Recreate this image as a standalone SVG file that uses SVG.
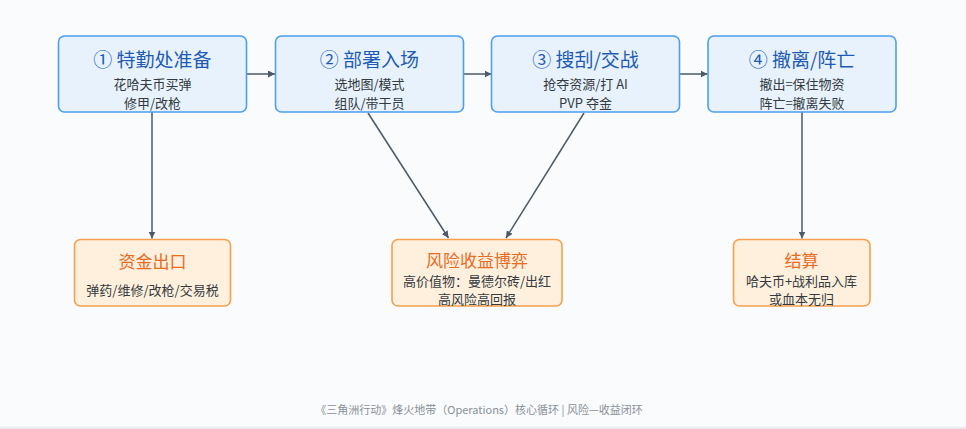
<svg xmlns="http://www.w3.org/2000/svg" width="966" height="429" viewBox="0 0 966 429">
<defs>
<marker id="ah" viewBox="0 0 10 10" refX="10" refY="5" markerWidth="7" markerHeight="7" markerUnits="userSpaceOnUse" orient="auto"><path d="M0,0 L10,5 L0,10 z" fill="#4b5a66"/></marker>
<style>
.top{fill:#e7f2fd;stroke:#4c9ef0;stroke-width:1.6}
.bot{fill:#fef0dd;stroke:#f5a04c;stroke-width:1.6}
text{font-family:"Noto Sans CJK SC","Noto Sans",sans-serif;text-anchor:middle}
.tt{font-size:19px;fill:#1f5bb5}
.bt{font-size:17px;fill:#ea6a1f}
.st{font-size:13px;fill:#333a40}
.ft{font-size:11px;fill:#8a9096}
.c{stroke:#4b5a66;stroke-width:1.5;fill:none;marker-end:url(#ah)}
</style>
</defs>
<rect width="966" height="429" fill="#f9fbfd"/>
<line x1="0" y1="428" x2="966" y2="428" stroke="#e2e5e8" stroke-width="1.5"/>
<g id="connectors">
<line class="c" x1="247" y1="74" x2="275" y2="74"/>
<line class="c" x1="464" y1="74" x2="491.5" y2="74"/>
<line class="c" x1="679.5" y1="74" x2="707.5" y2="74"/>
<line class="c" x1="152" y1="112" x2="152" y2="238.5"/>
<line class="c" x1="368" y1="113" x2="448.5" y2="238"/>
<line class="c" x1="584" y1="113" x2="506" y2="238"/>
<line class="c" x1="802" y1="112" x2="802" y2="238.5"/>
</g>
<g id="n1">
<rect class="top" x="58.5" y="36" width="188" height="76" rx="6"/>
<text class="tt" x="152.5" y="67">① 特勤处准备</text>
<text class="st" x="152.5" y="89">花哈夫币买弹</text>
<text class="st" x="152.5" y="108">修甲/改枪</text>
</g>
<g id="n2">
<rect class="top" x="275.5" y="36" width="188" height="76" rx="6"/>
<text class="tt" x="369.5" y="67">② 部署入场</text>
<text class="st" x="369.5" y="89">选地图/模式</text>
<text class="st" x="369.5" y="108">组队/带干员</text>
</g>
<g id="n3">
<rect class="top" x="491.5" y="36" width="188" height="76" rx="6"/>
<text class="tt" x="585.5" y="67">③ 搜刮/交战</text>
<text class="st" x="585.5" y="89">抢夺资源/打 AI</text>
<text class="st" x="585.5" y="108">PVP 夺金</text>
</g>
<g id="n4">
<rect class="top" x="708" y="36" width="188" height="76" rx="6"/>
<text class="tt" x="802" y="67">④ 撤离/阵亡</text>
<text class="st" x="802" y="89">撤出=保住物资</text>
<text class="st" x="802" y="108">阵亡=撤离失败</text>
</g>
<g id="b1">
<rect class="bot" x="74.5" y="239.5" width="156" height="66.5" rx="6"/>
<text class="bt" x="152.5" y="268">资金出口</text>
<text class="st" x="152.5" y="295">弹药/维修/改枪/交易税</text>
</g>
<g id="b2">
<rect class="bot" x="392" y="239.5" width="170" height="66.5" rx="6"/>
<text class="bt" x="477" y="266.5">风险收益博弈</text>
<text class="st" x="477" y="286">高价值物：曼德尔砖/出红</text>
<text class="st" x="477" y="303.5">高风险高回报</text>
</g>
<g id="b3">
<rect class="bot" x="733.5" y="239.5" width="136.5" height="66.5" rx="6"/>
<text class="bt" x="801.5" y="266.5">结算</text>
<text class="st" x="801.5" y="286">哈夫币+战利品入库</text>
<text class="st" x="801.5" y="303.5">或血本无归</text>
</g>
<text class="ft" x="479" y="414">《三角洲行动》烽火地带（Operations）核心循环 | 风险—收益闭环</text>
</svg>
